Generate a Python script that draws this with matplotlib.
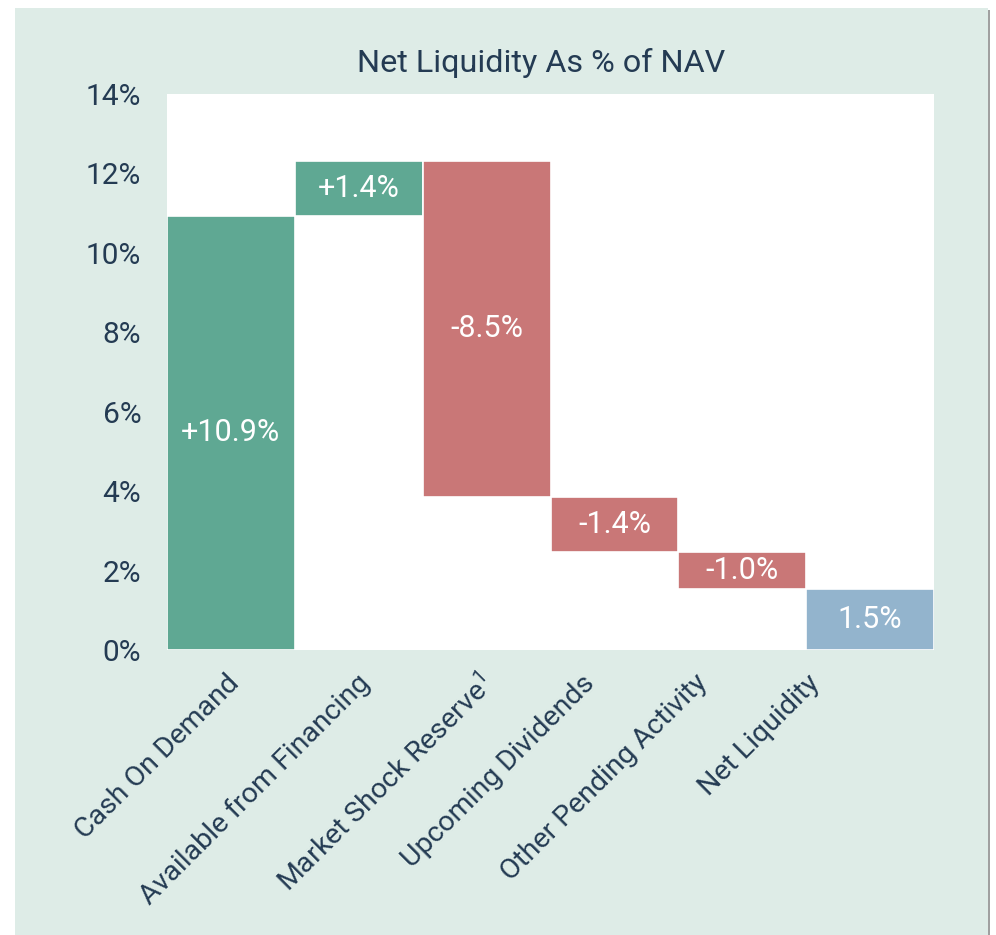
import numpy as np
import matplotlib.pyplot as plt
from matplotlib.patches import Rectangle

# waterfall data, % of NAV
categories = ["Cash On Demand", "Available from Financing", r"Market Shock Reserve$^{\mathit{1}}$",
              "Upcoming Dividends", "Other Pending Activity", "Net Liquidity"]
changes = [10.93, 1.39, -8.46, -1.38, -0.95]
net_value = 1.53
bar_labels = ["+10.9%", "+1.4%", "-8.5%", "-1.4%", "-1.0%", "1.5%"]
yticks = [0, 2, 4, 6, 8, 10, 12, 14]

green = "#5fa893"
red = "#c97777"
blue = "#93b4cd"
mint = "#deece7"
navy = "#243b53"

plt.rcParams['font.family'] = ['Roboto', 'DejaVu Sans']
plt.rcParams['mathtext.fontset'] = 'custom'
plt.rcParams['mathtext.rm'] = 'Roboto'
plt.rcParams['mathtext.it'] = 'Roboto:italic'

fig = plt.figure(figsize=(9.96, 9.35), dpi=100)
fig.patch.set_facecolor("white")

# mint panel with a soft shadow on the right
fig.patches.append(Rectangle((17 / 996, 0), 973 / 996, 925 / 935, transform=fig.transFigure,
                             facecolor="#a0a0a0", edgecolor="none", zorder=-10))
fig.patches.append(Rectangle((15 / 996, 0), 973 / 996, 927 / 935, transform=fig.transFigure,
                             facecolor=mint, edgecolor="none", zorder=-9))

ax = fig.add_axes([167 / 996, 285 / 935, 767 / 996, 556 / 935])
ax.set_facecolor("white")

# bottoms / heights of the floating bars
starts = np.concatenate([[0], np.cumsum(changes)[:-1]])
bottoms = [min(s, s + c) for s, c in zip(starts, changes)] + [0]
heights = [abs(c) for c in changes] + [net_value]
colors = [green if c > 0 else red for c in changes] + [blue]

x = np.arange(len(categories))
bars = ax.bar(x, heights, bottom=bottoms, width=1.0, color=colors,
              edgecolor="white", linewidth=1.2)

for b, lab in zip(bars, bar_labels):
    ax.text(b.get_x() + b.get_width() / 2, b.get_y() + b.get_height() / 2, lab,
            ha="center", va="center", color="white", fontsize=22)

ax.set_xlim(-0.5, len(categories) - 0.5)
ax.set_ylim(0, 14)
ax.set_yticks(yticks)
ax.set_yticklabels([f"{v}%" for v in yticks], fontsize=21.5)

# Excel squeezes the rotated labels a little to the left
label_pos = [-0.04, 0.98, 1.93, 2.74, 3.62, 4.5]
ax.set_xticks(label_pos)
ax.set_xticklabels(categories, rotation=45, ha="right", va="top", rotation_mode="anchor",
                   fontsize=20.5)

ax.tick_params(axis="both", length=0, colors=navy)
ax.tick_params(axis="y", pad=18.5)
ax.tick_params(axis="x", pad=14)
for s in ax.spines.values():
    s.set_visible(False)

fig.text(541 / 996, 1 - 72 / 935, "Net Liquidity As % of NAV", ha="center", va="baseline",
         fontsize=23.3, color=navy)

fig.savefig("out.png", dpi=100)
